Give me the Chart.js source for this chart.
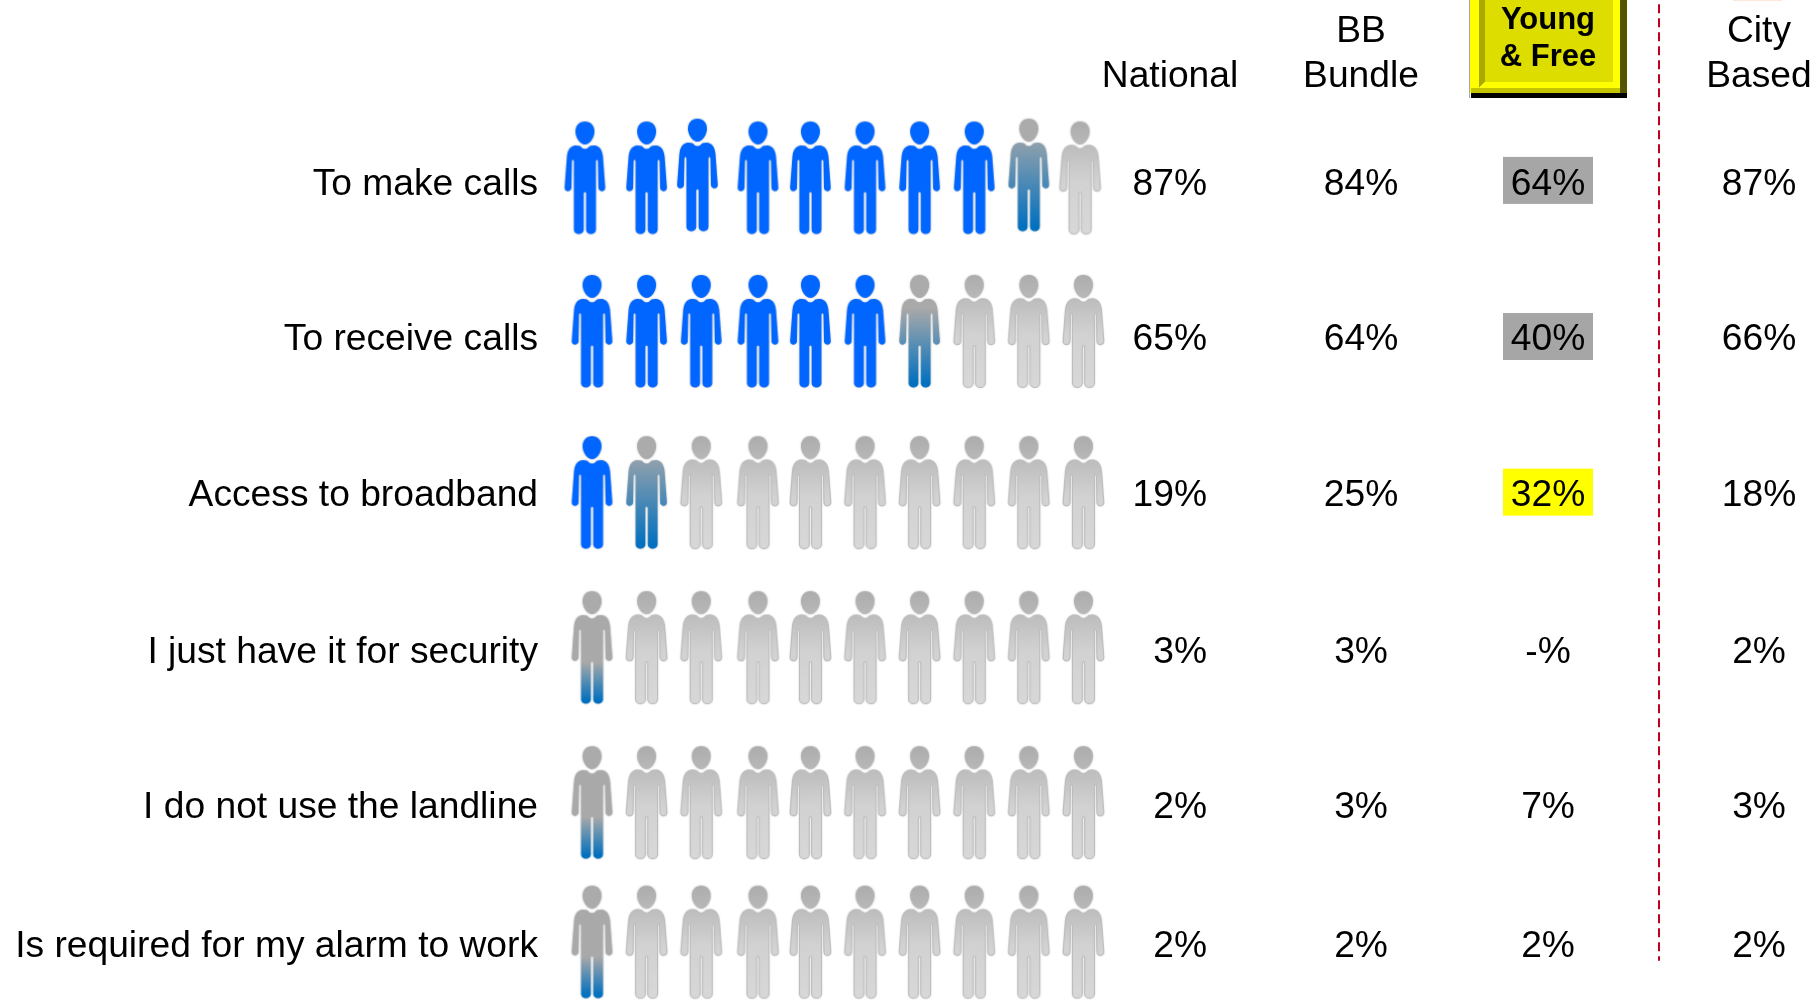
<!DOCTYPE html>
<html>
<head>
<meta charset="utf-8">
<title>Landline reasons</title>
<script src="https://cdn.jsdelivr.net/npm/chart.js@4"></script>
<style>
  html, body { margin: 0; background: #fff; overflow: hidden; }
  canvas { display: block; }
</style>
</head>
<body>
<canvas id="chart" width="1816" height="1002"></canvas>
<script>
const rowLabels = ['To make calls', 'To receive calls', 'Access to broadband',
  'I just have it for security', 'I do not use the landline', 'Is required for my alarm to work'];
const national = [87, 65, 19, 3, 2, 2];
const bbBundle = [84, 64, 25, 3, 3, 2];
const youngFree = [64, 40, 32, null, 7, 2];
const cityBased = [87, 66, 18, 2, 3, 2];
const headers = [['National'], ['BB', 'Bundle'], ['Young', '& Free'], ['City', 'Based']];

const FONT = '"Liberation Sans", Arial, sans-serif';

// layout only: the icons in the source are slightly out of line
const rowNudge = [0, -0.01, 0.03, 0.03, 0.03, -0.07];
const textNudge = [0.041, 0.041, 0.052, 0.06, 0.06, -0.038];
const highlightNudge = [0.019, 0.026, 0.03];
const firstRowNudgeX = { 0: -0.13, 2: -0.07, 9: -0.06 };
const firstRowNudgeY = { 2: -0.018, 8: -0.018 };
const colNudge = { 3: 0.04 };
const columnX = [1170, 1361, 1548, 1759];
const dividerX = 1659;

function personHead(cx) {
  const p = new Path2D();
  p.moveTo(cx, 0);
  p.bezierCurveTo(cx + 5.5, 0, cx + 9.5, 4, cx + 9.5, 10);
  p.bezierCurveTo(cx + 9.5, 16, cx + 5, 23, cx, 23);
  p.bezierCurveTo(cx - 5, 23, cx - 9.5, 16, cx - 9.5, 10);
  p.bezierCurveTo(cx - 9.5, 4, cx - 5.5, 0, cx, 0);
  return p;
}

function personBody(cx) {
  const p = new Path2D();
  p.moveTo(cx, 27.5);
  p.quadraticCurveTo(cx + 3, 27, cx + 5, 24.5);
  p.bezierCurveTo(cx + 10, 23, cx + 17, 24, cx + 18, 35);
  p.lineTo(cx + 20.3, 66);
  p.bezierCurveTo(cx + 20.8, 70.5, cx + 14, 71, cx + 13.5, 66.5);
  p.lineTo(cx + 13, 39.5);
  p.quadraticCurveTo(cx + 12, 37, cx + 11, 39.5);
  p.lineTo(cx + 11, 108);
  p.bezierCurveTo(cx + 11, 114, cx + 1.2, 114, cx + 1.2, 108);
  p.lineTo(cx + 1.2, 71.5);
  p.quadraticCurveTo(cx, 69.5, cx - 1.2, 71.5);
  p.lineTo(cx - 1.2, 108);
  p.bezierCurveTo(cx - 1.2, 114, cx - 11, 114, cx - 11, 108);
  p.lineTo(cx - 11, 39.5);
  p.quadraticCurveTo(cx - 12, 37, cx - 13, 39.5);
  p.lineTo(cx - 13.5, 66.5);
  p.bezierCurveTo(cx - 14, 71, cx - 20.8, 70.5, cx - 20.3, 66);
  p.lineTo(cx - 18, 35);
  p.bezierCurveTo(cx - 17, 24, cx - 10, 23, cx - 5, 24.5);
  p.quadraticCurveTo(cx - 3, 27, cx, 27.5);
  p.closePath();
  return p;
}

// where the grey starts turning blue on a part filled person
function blendStart(fill) {
  if (fill < 0.4) return 0.63;
  return Math.max(0.08, 0.3 - (fill - 0.5) * 1.1);
}

const iconCache = {};
function personIcon(fill) {
  const key = fill.toFixed(2);
  if (iconCache[key]) return iconCache[key];

  const c = document.createElement('canvas');
  c.width = 47;
  c.height = 119;
  const ctx = c.getContext('2d');
  ctx.translate(0, 3);
  const head = personHead(23.5);
  const body = personBody(23.5);

  ctx.shadowColor = 'rgba(130,130,130,0.55)';
  ctx.shadowBlur = 2;

  if (fill >= 1) {
    ctx.fillStyle = '#0066ff';
    ctx.fill(head);
    ctx.fill(body);
  } else if (fill > 0) {
    const g = ctx.createLinearGradient(0, 0, 0, 113);
    g.addColorStop(0, '#a9a9a9');
    g.addColorStop(blendStart(fill), '#a9a9a9');
    g.addColorStop(0.97, '#0070c0');
    ctx.fillStyle = '#ababab';
    ctx.fill(head);
    ctx.fillStyle = g;
    ctx.fill(body);
  } else {
    const g = ctx.createLinearGradient(0, 24, 0, 113);
    g.addColorStop(0, '#bdbdbd');
    g.addColorStop(0.4, '#d2d2d2');
    g.addColorStop(1, '#d8d8d8');
    const h = ctx.createLinearGradient(0, 0, 0, 23);
    h.addColorStop(0, '#adadad');
    h.addColorStop(1, '#b8b8b8');
    ctx.fillStyle = h;
    ctx.fill(head);
    ctx.fillStyle = g;
    ctx.fill(body);
    ctx.shadowBlur = 0;
    ctx.strokeStyle = '#bcbcbc';
    ctx.lineWidth = 1.1;
    ctx.stroke(body);
  }
  iconCache[key] = c;
  return c;
}

function iconFill(value, col) {
  return Math.min(1, Math.max(0, value / 10 - col));
}

const peopleDatasets = national.map((value, row) => ({
  label: rowLabels[row],
  xAxisID: 'x',
  yAxisID: 'y',
  pointRadius: 20,
  pointStyle: ctx => personIcon(ctx.raw ? ctx.raw.fill : 0),
  data: Array.from({ length: 10 }, (_, col) => ({
    x: col + (colNudge[col] || 0) + (row === 0 ? (firstRowNudgeX[col] || 0) : 0),
    y: row + rowNudge[row] + (row === 0 ? (firstRowNudgeY[col] || 0) : 0),
    fill: iconFill(value, col)
  }))
}));

const dividerDataset = {
  label: 'divider',
  xAxisID: 'xCol',
  yAxisID: 'y',
  showLine: true,
  pointRadius: 0,
  borderColor: '#c00020',
  borderWidth: 2,
  borderDash: [9, 5],
  data: [{ x: dividerX, y: -1.12 }, { x: dividerX, y: 5.05 }]
};

function drawBevel(ctx) {
  const poly = (color, pts) => {
    ctx.fillStyle = color;
    ctx.beginPath();
    pts.forEach((p, i) => i ? ctx.lineTo(p[0], p[1]) : ctx.moveTo(p[0], p[1]));
    ctx.closePath();
    ctx.fill();
  };
  ctx.fillStyle = '#a8a8a8';
  ctx.fillRect(1469, 0, 1, 98);
  poly('#ffff00', [[1470, 0], [1479, 0], [1479, 88], [1612, 88], [1620, 93], [1470, 93]]);
  poly('#555500', [[1620, 0], [1627, 0], [1627, 93], [1620, 93]]);
  poly('#ffff00', [[1613, 0], [1620, 0], [1620, 88], [1613, 82]]);
  poly('#a9a900', [[1479, 0], [1485, 0], [1485, 82], [1479, 88]]);
  poly('#ffff00', [[1479, 88], [1485, 82], [1613, 82], [1620, 88]]);
  poly('#c4c400', [[1471, 88], [1620, 88], [1620, 93], [1471, 93]]);
  ctx.fillStyle = '#dddd00';
  ctx.fillRect(1485, 0, 128, 82);
  ctx.fillStyle = '#000';
  ctx.fillRect(1471, 93, 156, 5);
}

const tablePlugin = {
  id: 'table',
  beforeDatasetsDraw(chart) {
    const { ctx, scales } = chart;
    ctx.save();
    // highlighted Young & Free cells
    const cx = scales.xCol.getPixelForValue(columnX[2]);
    [['#a6a6a6', 0], ['#a6a6a6', 1], ['#ffff00', 2]].forEach(([color, row]) => {
      const y = scales.y.getPixelForValue(row + highlightNudge[row]);
      ctx.fillStyle = color;
      ctx.fillRect(cx - 45, y - 24, 90, 47);
    });
    // sliver of a shape cut off by the top edge
    ctx.fillStyle = '#fde6da';
    ctx.fillRect(1733, 0, 49, 1);
    drawBevel(ctx);
    ctx.restore();
  },
  afterDatasetsDraw(chart) {
    const { ctx, scales } = chart;
    ctx.save();
    ctx.fillStyle = '#000';
    ctx.textBaseline = 'middle';

    [national, bbBundle, youngFree, cityBased].forEach((values, c) => {
      const x = scales.xCol.getPixelForValue(columnX[c]);
      ctx.font = '37.2px ' + FONT;
      // National sits right aligned, the others centred
      ctx.textAlign = c === 0 ? 'right' : 'center';
      values.forEach((v, row) => {
        const y = scales.y.getPixelForValue(row + textNudge[row]);
        ctx.fillText((v === null ? '-' : v) + '%', c === 0 ? x + 37 : x, y);
      });
    });

    ctx.textAlign = 'center';
    headers.forEach((lines, c) => {
      const x = scales.xCol.getPixelForValue(columnX[c]);
      const bold = c === 2;
      ctx.font = (bold ? 'bold 31px ' : '37.2px ') + FONT;
      const ys = bold ? [20, 57] : (lines.length === 2 ? [32, 77] : [77]);
      lines.forEach((line, i) => ctx.fillText(line, x, ys[i]));
    });
    ctx.restore();
  }
};

new Chart(document.getElementById('chart'), {
  type: 'scatter',
  data: { datasets: [...peopleDatasets, dividerDataset] },
  options: {
    responsive: false,
    animation: false,
    events: [],
    layout: { padding: 0, autoPadding: false },
    plugins: { legend: { display: false }, tooltip: { enabled: false } },
    scales: {
      x: { type: 'linear', display: false, min: -0.861, max: 22.418 },
      xCol: { type: 'linear', display: false, min: 545, max: 1816 },
      y: {
        type: 'linear',
        reverse: true,
        min: -1.148,
        max: 5.316,
        border: { display: false },
        grid: { display: false, drawTicks: false },
        afterFit: s => { s.width = 545; s.paddingTop = 0; s.paddingBottom = 0; },
        afterBuildTicks: s => { s.ticks = rowLabels.map((_, i) => ({ value: i + textNudge[i] })); },
        afterTickToLabelConversion: s => { s.ticks.forEach((t, i) => { t.label = rowLabels[i]; }); },
        ticks: {
          autoSkip: false,
          maxRotation: 0,
          minRotation: 0,
          padding: 7,
          crossAlign: 'near',
          color: '#000',
          font: { family: FONT, size: 37.2 }
        }
      }
    }
  },
  plugins: [tablePlugin]
});
</script>
</body>
</html>
